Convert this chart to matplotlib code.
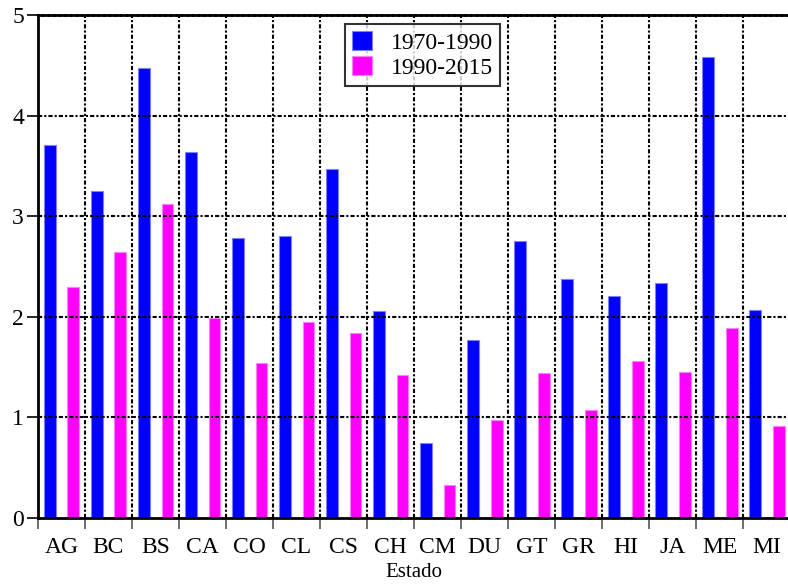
import matplotlib
matplotlib.use("Agg")
import matplotlib.pyplot as plt
import numpy as np

estados = ["AG", "BC", "BS", "CA", "CO", "CL", "CS", "CH",
           "CM", "DU", "GT", "GR", "HI", "JA", "ME", "MI"]
tasa_1970_1990 = [3.71, 3.25, 4.47, 3.64, 2.78, 2.80, 3.47, 2.06,
                  0.75, 1.77, 2.75, 2.38, 2.21, 2.34, 4.58, 2.07]
tasa_1990_2015 = [2.30, 2.64, 3.12, 1.99, 1.54, 1.95, 1.84, 1.42,
                  0.33, 0.97, 1.44, 1.07, 1.56, 1.45, 1.89, 0.91]
y_ticks = [0, 1, 2, 3, 4, 5]

plt.rcParams['font.family'] = ['Liberation Serif', 'DejaVu Serif']

fig = plt.figure(figsize=(7.88, 5.87), dpi=100)
ax = fig.add_axes([0.048, 0.1176, 0.955, 0.8568])

x = np.arange(len(estados))
w = 0.25
ax.bar(x - 0.245, tasa_1970_1990, w, color='#0000ff', edgecolor='#7f7fff',
       linewidth=0.8, label='1970-1990', zorder=2)
ax.bar(x + 0.255, tasa_1990_2015, w, color='#ff00ff', edgecolor='#ff7fff',
       linewidth=0.8, label='1990-2015', zorder=2)

ax.set_xlim(-0.5, len(estados) - 0.5)
ax.set_ylim(0, 5)

# dash-dot grid on top of bars
grid_style = (0, (2, 1, 1, 1))
for b in np.arange(0.5, len(estados) - 0.5, 1):
    ax.axvline(b, color='black', linestyle=grid_style, linewidth=1.5, zorder=3)
for yv in y_ticks[1:-1]:
    ax.axhline(yv, color='black', linestyle=grid_style, linewidth=1.5, zorder=3)

ax.set_xticks(x)
ax.set_xticklabels(estados, fontsize=17)
ax.tick_params(axis='x', which='major', length=0, pad=14)
ax.set_xticks(np.arange(-0.5, len(estados), 1), minor=True)
ax.tick_params(axis='x', which='minor', length=8, width=1.2, color='#555555',
               direction='out')
ax.set_yticks(y_ticks)
ax.set_yticklabels([str(v) for v in y_ticks], fontsize=17)
ax.tick_params(axis='y', length=8, width=1.2, direction='out', pad=2)

ax.set_xlabel('Estado', fontsize=15, labelpad=3)

ax.spines['right'].set_visible(False)
ax.spines['left'].set_linewidth(2)
ax.spines['bottom'].set_linewidth(2)
ax.spines['top'].set_linewidth(2)
ax.spines['top'].set_linestyle((0, (1.5, 0.5)))

leg = ax.legend(loc='upper left', bbox_to_anchor=(0.4085, 0.982), fontsize=17,
                frameon=True, fancybox=False, edgecolor='black',
                handlelength=0.85, handleheight=0.85, borderpad=0.3,
                labelspacing=0.1, handletextpad=0.8, borderaxespad=0)
leg.get_frame().set_linewidth(1.5)
leg.set_zorder(5)

fig.savefig('out.png', dpi=100)
